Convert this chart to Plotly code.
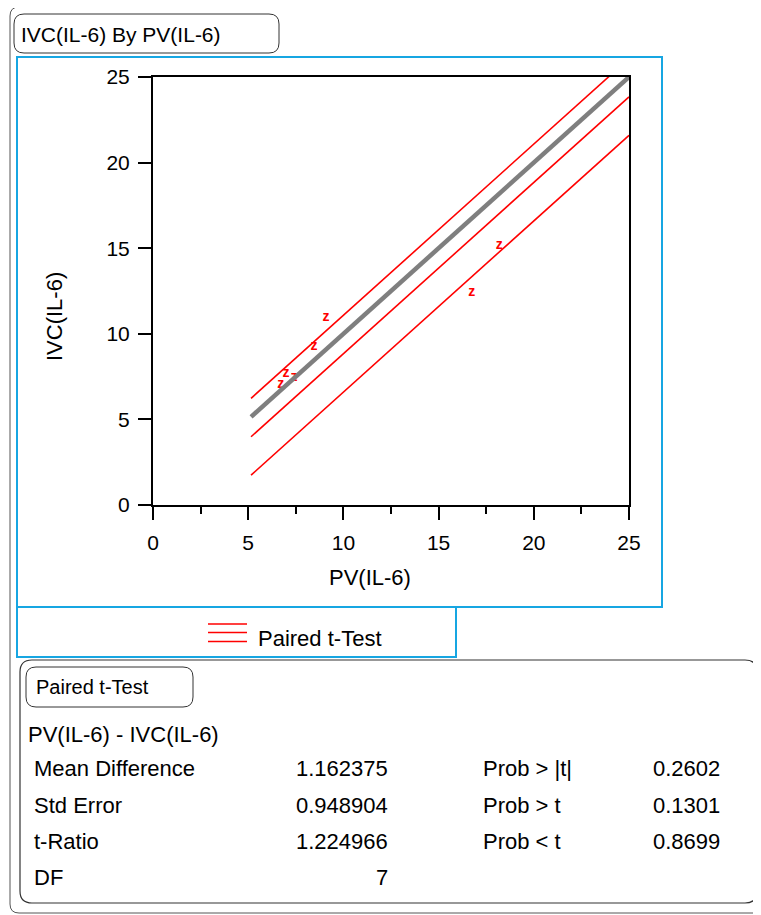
import plotly.graph_objects as go

# ---- data ----
pv = [9.09, 8.46, 6.99, 7.41, 6.71, 18.19, 16.74]
ivc = [10.94, 9.25, 7.71, 7.42, 7.03, 15.17, 12.40]

axis_ticks = [0, 5, 10, 15, 20, 25]
line_x = [5.15, 25]

mean_diff = 1.162375
std_err = 0.948904
t_crit = 2.364624  # t quantile 0.975, df = 7

stat_labels = ["Mean Difference", "Std Error", "t-Ratio", "DF"]
stat_values = ["1.162375", "0.948904", "1.224966", "7"]
prob_labels = ["Prob > |t|", "Prob > t", "Prob < t"]
prob_values = ["0.2602", "0.1301", "0.8699"]

# ---- geometry (reference pixel coordinates) ----
OFF = 8  # page body margin
W, H = 761, 915
L, R, T, B = 153, 629, 77, 505
FONT = "Liberation Sans, Arial, sans-serif"
BLUE = "#17a6e2"


def px(x):
    return (x - L) / (R - L)


def py(y):
    return (B - y) / (B - T)


def rrect(x0, y0, x1, y1, r, color, width):
    rx = r / (R - L)
    ry = r / (B - T)
    X0, X1 = px(x0), px(x1)
    Y0, Y1 = py(y0), py(y1)  # Y0 top, Y1 bottom
    path = (
        f"M {X0 + rx},{Y0} L {X1 - rx},{Y0} Q {X1},{Y0} {X1},{Y0 - ry} "
        f"L {X1},{Y1 + ry} Q {X1},{Y1} {X1 - rx},{Y1} "
        f"L {X0 + rx},{Y1} Q {X0},{Y1} {X0},{Y1 + ry} "
        f"L {X0},{Y0 - ry} Q {X0},{Y0} {X0 + rx},{Y0} Z"
    )
    return dict(type="path", path=path, xref="paper", yref="paper",
                line=dict(color=color, width=width), layer="below")


def rect(x0, y0, x1, y1, color, width):
    return dict(type="rect", xref="paper", yref="paper",
                x0=px(x0), x1=px(x1), y0=py(y1), y1=py(y0),
                line=dict(color=color, width=width), layer="below")


def hline(x0, x1, y, color, width):
    return dict(type="line", xref="paper", yref="paper",
                x0=px(x0), x1=px(x1), y0=py(y), y1=py(y),
                line=dict(color=color, width=width))


def text(x, y, s, size=18, anchor="left", angle=0):
    return dict(x=px(x), y=py(y), xref="paper", yref="paper", text=s,
                showarrow=False, xanchor=anchor, yanchor="middle",
                textangle=angle, font=dict(family=FONT, size=size, color="black"))


fig = go.Figure()

# points (drawn first so lines sit on top)
fig.add_trace(go.Scatter(
    x=pv, y=ivc, mode="text", text=["z"] * len(pv),
    textposition="middle center",
    textfont=dict(family="Liberation Sans, Arial", size=14, color="red",
                  weight="bold"),
    hoverinfo="skip", showlegend=False, cliponaxis=False))

# reference line y = x
fig.add_trace(go.Scatter(
    x=line_x, y=line_x, mode="lines",
    line=dict(color="#7f7f7f", width=4.5), showlegend=False, hoverinfo="skip"))

# mean difference line and confidence limits
ci_half = t_crit * std_err
for d in [mean_diff, mean_diff - ci_half, mean_diff + ci_half]:
    fig.add_trace(go.Scatter(
        x=line_x, y=[v - d for v in line_x], mode="lines",
        line=dict(color="red", width=1.6), showlegend=False, hoverinfo="skip"))

axis_common = dict(
    range=[0, 25], tickvals=axis_ticks, showgrid=False, zeroline=False,
    showline=True, linecolor="black", linewidth=2, mirror=True,
    ticks="outside", ticklen=13, tickwidth=2, tickcolor="black",
    tickfont=dict(family=FONT, size=21, color="black"),
)

fig.update_xaxes(**axis_common, ticklabelstandoff=5,
                 minor=dict(dtick=2.5, ticks="outside", ticklen=7,
                            tickwidth=2, tickcolor="black"))
fig.update_yaxes(**axis_common, ticklabelstandoff=4)

shapes = [
    # outer frame
    rrect(10, 7, 790, 913, 9, "#555555", 1),
    # title box
    rrect(14, 14, 279, 53, 10, "#333333", 1),
    # blue plot frame and legend frame
    rect(17, 57, 662, 607, BLUE, 2),
    rect(17, 607, 456, 657, BLUE, 2),
    # Paired t-Test report box and its title box
    rrect(20, 660, 757, 903, 12, "#333333", 1.2),
    rrect(26, 667, 193, 707, 10, "#333333", 1),
    # legend swatch
    hline(208, 247, 624, "red", 1.6),
    hline(208, 247, 632.5, "red", 1.6),
    hline(208, 247, 641.5, "red", 1.6),
]

annotations = [
    text(19, 34, "IVC(IL-6) By PV(IL-6)", size=21),
    text(370, 577, "PV(IL-6)", size=22, anchor="center"),
    text(54, 317, "IVC(IL-6)", size=22, anchor="center", angle=-90),
    text(256, 638, "Paired t-Test", size=22),
    text(34, 687, "Paired t-Test", size=20),
    text(26, 734, "PV(IL-6) - IVC(IL-6)", size=22),
]
row_y = [769, 805, 841, 877]
for lab, val, yy in zip(stat_labels, stat_values, row_y):
    annotations.append(text(32, yy, lab, size=22))
    annotations.append(text(390, yy, val, size=22, anchor="right"))
for lab, val, yy in zip(prob_labels, prob_values, row_y):
    annotations.append(text(481, yy, lab, size=22))
    annotations.append(text(722, yy, val, size=22, anchor="right"))

FW, FH = W - OFF, H - OFF
fig.update_layout(
    width=FW, height=FH,
    margin=dict(l=L - OFF, r=FW - (R - OFF), t=T - OFF, b=FH - (B - OFF), pad=0),
    plot_bgcolor="white", paper_bgcolor="white",
    shapes=shapes, annotations=annotations,
    showlegend=False,
)

fig.write_html("out.html")
